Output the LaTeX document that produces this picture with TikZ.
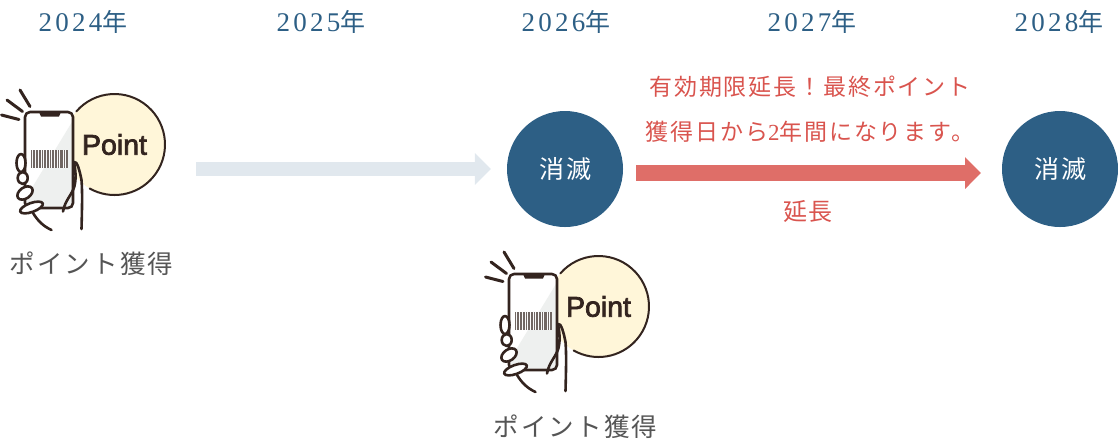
\documentclass[tikz,border=0pt]{standalone}
\usepackage{fontspec}
\usetikzlibrary{arrows.meta}
\setmainfont{Liberation Serif}
\setsansfont{Liberation Sans}
\newfontfamily\jpfont[LetterSpace=8]{Noto Sans CJK JP}
\newfontfamily\numfont[LetterSpace=12]{Liberation Serif}
\newfontfamily\pointfont[FakeBold=2.5]{Liberation Sans}
\newcommand{\yearlabel}[1]{{\numfont #1}{\fontsize{25}{25}\selectfont\jpfont 年}}
\definecolor{bluecirc}{HTML}{2D5F85}
\definecolor{graybar}{HTML}{E1E8EE}
\definecolor{redbar}{HTML}{DF6E68}
\definecolor{redtext}{HTML}{D9544E}
\definecolor{inkdark}{HTML}{33241F}
\definecolor{pointfill}{HTML}{FFF6D9}
\definecolor{screengray}{HTML}{EEF0EF}
\definecolor{labelgray}{HTML}{555555}
\tikzset{
    year/.style={text=bluecirc, font=\fontsize{27}{27}\selectfont, inner sep=0pt},
    vanish/.style={circle, fill=bluecirc, text=white, minimum size=116pt, inner sep=0pt, font=\fontsize{25}{25}\selectfont\jpfont},
    getlabel/.style={text=labelgray, inner sep=0pt, font=\fontsize{25.5}{25.5}\selectfont\jpfont},
    redlabel/.style={text=redtext, inner sep=0pt, align=center, font=\fontsize{23}{45}\selectfont\jpfont},
    ink/.style={draw=inkdark, line width=2.6pt, line cap=round, line join=round},
    pointicon/.pic={
        \fill[pointfill] (114.5,144.5) circle[radius=50.5];
        \draw[ink, line width=2pt] (114.5,144.5) ++(221:50.5) arc[start angle=221, end angle=479.4, radius=50.5];
        \node[text=inkdark, inner sep=0pt, font=\fontsize{28.5}{28.5}\selectfont\pointfont] (word) at (114.5,144.5) {Point};
        % phone body, screen and barcode
        \fill[white, rounded corners=5pt] (25,112) rectangle (73,208);
        \fill[screengray] (72,122) -- (27,196) -- (27,206) -- (72,206) -- cycle;
        \fill[white!70!screengray] (31,150) rectangle (68,168);
        \foreach \xb/\wb in {31/.7,32.6/.5,34/.9,35.8/.5,37.2/.5,38.6/.9,40.4/.5,41.8/1.2,43.8/.5,45.2/.5,46.5/.9,48.3/.5,49.8/1.2,51.8/.5,53.2/.7,54.8/.5,56.2/1.2,58.2/.5,59.6/.7,61.2/.5,62.4/1,64.2/.5,65.6/.7,67.2/1}
            \fill[inkdark!70!white] (\xb,150) rectangle ++(\wb,18);
        \draw[ink, rounded corners=5pt] (25,112) rectangle (73,208);
        \fill[inkdark] (39,112) -- (61,112) -- (59,116.5) -- (41,116.5) -- cycle;
        % rays above the phone
        \draw[ink, line width=3pt] (1.5,115) -- (19,119.5);
        \draw[ink, line width=3pt] (7,100) -- (22.5,111.5);
        \draw[ink, line width=3pt] (20,90) -- (30,106.5);
        % fingers and hand
        \draw[ink, fill=white] (21,163) ellipse[x radius=4.5, y radius=9];
        \draw[ink, fill=white] (22.7,178) ellipse[x radius=5, y radius=6];
        \draw[ink, fill=white, rotate around={35:(25,193)}] (25,193) ellipse[x radius=8.5, y radius=5.5];
        \draw[ink, fill=white, rotate around={20:(31.5,207.5)}] (31.5,207.5) ellipse[x radius=12, y radius=4.5];
        \draw[ink] (33,213) .. controls (38,221) and (43,226) .. (51.5,230);
        \draw[ink] (74,162) .. controls (77,160) and (80,172) .. (81.5,180) .. controls (82.5,192) and (82,210) .. (81.5,229);
        \draw[ink] (74,162) .. controls (76,172) and (76,180) .. (74.5,186) .. controls (72,195) and (65,200) .. (63,211.5);
    }
}
\begin{document}
\begin{tikzpicture}[x=1pt, y=-1pt]
    \useasboundingbox (0,0) rectangle (1118,440);

    \node[year] (y2024) at (83,22) {\yearlabel{2024}};
    \node[year] (y2025) at (321,22) {\yearlabel{2025}};
    \node[year] (y2026) at (566,22) {\yearlabel{2026}};
    \node[year] (y2027) at (812,22) {\yearlabel{2027}};
    \node[year] (y2028) at (1059,22) {\yearlabel{2028}};

    \pic (first) at (0,0) {pointicon};
    \pic (second) at (484,162) {pointicon};
    \node[getlabel] (get1) at (91.5,264) {ポイント獲得};
    \node[getlabel] (get2) at (575.5,427) {ポイント獲得};

    \node[vanish] (vanish1) at (565,169) {消滅};
    \node[vanish] (vanish2) at (1060,169) {消滅};

    \coordinate (graystart) at (196,169);
    \coordinate (redstart) at (636,173);
    \coordinate (redend) at (981,173);

    \path
        (graystart) edge[-{Triangle[length=16pt, width=31pt]}, line width=14pt, draw=graybar, shorten >=16pt] (vanish1.west)
        (redstart) edge[-{Triangle[length=16pt, width=31pt]}, line width=16pt, draw=redbar] (redend)
        ;

    \node[redlabel] (notice) at (810,109.5) {有効期限延長！最終ポイント\\獲得日から{\numfont 2}年間になります。};
    \node[redlabel, font=\fontsize{24}{24}\selectfont\jpfont] (extend) at (808,211) {延長};
\end{tikzpicture}
\end{document}
